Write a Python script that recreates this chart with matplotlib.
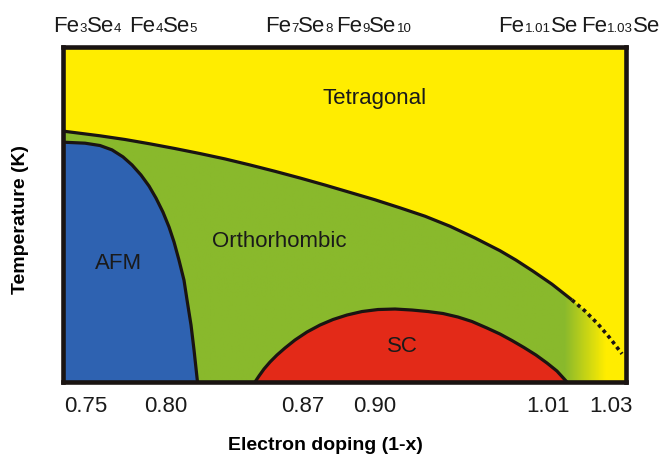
import numpy as np
import matplotlib
matplotlib.use("Agg")
import matplotlib.pyplot as plt
from matplotlib.patches import Polygon
from matplotlib.colors import to_rgb
from matplotlib.offsetbox import TextArea, HPacker, AnnotationBbox

plt.rcParams['font.family'] = ['Liberation Sans', 'DejaVu Sans']

# schematic phase diagram, arbitrary units (x: 0-100, T: 0-100)
tet_x = [0, 6.57, 11.01, 15.45, 19.89, 24.33, 28.77, 33.21, 37.66, 42.10, 46.54, 50.98,
         55.42, 59.86, 64.30, 68.74, 73.18, 77.62, 80.46, 83.48, 86.86, 90.41]
tet_t = [74.9, 73.5, 72.4, 71.1, 69.7, 68.2, 66.6, 64.8, 62.9, 60.9, 58.8, 56.6,
         54.4, 52.0, 49.5, 46.5, 43.0, 39.2, 36.4, 33.1, 29.2, 24.5]
tet_dot_x = [90.41, 92.72, 95.03, 97.16, 99.29]
tet_dot_t = [24.5, 21.2, 17.3, 13.1, 8.4]

afm_x = [0, 3.91, 6.57, 8.70, 10.66, 12.26, 13.85, 15.28, 16.52, 17.76, 18.83, 19.72,
         20.60, 21.49, 22.03, 22.74, 23.27, 23.89]
afm_t = [71.6, 71.3, 70.6, 69.3, 67.2, 64.8, 61.8, 58.5, 54.9, 50.7, 46.3, 41.8,
         36.4, 30.4, 24.5, 17.0, 9.6, 0]

sc_x = [34.10, 34.81, 35.70, 36.77, 38.01, 39.43, 41.21, 43.34, 45.65, 47.96, 50.44, 53.11,
        55.95, 58.97, 61.99, 64.83, 67.50, 70.16, 72.65, 75.31, 77.62, 79.75, 81.88,
        84.01, 85.97, 87.74, 89.52]
sc_t = [0, 1.79, 3.88, 5.97, 8.06, 10.15, 12.54, 14.93, 17.01, 18.66, 20.0, 21.04,
        21.64, 21.79, 21.49, 21.04, 20.45, 19.40, 18.06, 16.12, 14.33, 12.39, 10.30,
        8.06, 5.67, 3.28, 0]

bottom_pos = [4.1, 18.3, 42.6, 55.4, 86.2, 97.3]
bottom_labels = ['0.75', '0.80', '0.87', '0.90', '1.01', '1.03']
top_pos = [4.3, 17.8, 41.9, 55.2, 84.4, 99.1]
# (text, is_subscript) pieces of each compound label
top_labels = [
    [('Fe', 0), ('3', 1), ('Se', 0), ('4', 1)],
    [('Fe', 0), ('4', 1), ('Se', 0), ('5', 1)],
    [('Fe', 0), ('7', 1), ('Se', 0), ('8', 1)],
    [('Fe', 0), ('9', 1), ('Se', 0), ('10', 1)],
    [('Fe', 0), ('1.01', 1), ('Se', 0)],
    [('Fe', 0), ('1.03', 1), ('Se', 0)],
]

yellow = '#FFED00'
green = '#89B92C'
blue = '#2E62B1'
red = '#E32A18'
lc = '#1a1412'
tc = '#1a1a1a'

fig = plt.figure(figsize=(6.66, 4.58), dpi=100)
ax = fig.add_axes([0.0946, 0.1659, 0.8453, 0.7314])
ax.set_xlim(0, 100)
ax.set_ylim(0, 100)
ax.set_facecolor(yellow)

# orthorhombic region: green fading to yellow at the right
ortho_pts = list(zip(tet_x + tet_dot_x[1:], tet_t + tet_dot_t[1:])) + [(100, 8.4), (100, 0), (0, 0)]
ortho = Polygon(ortho_pts, closed=True, facecolor='none', edgecolor='none')
ax.add_patch(ortho)
xs = np.linspace(0, 100, 500)
frac = np.clip((xs - 89.2) / (96.5 - 89.2), 0, 1)
g, yl = np.array(to_rgb(green)), np.array(to_rgb(yellow))
row = (1 - frac)[:, None] * g + frac[:, None] * yl
img = np.tile(row[None, :, :], (2, 1, 1))
im = ax.imshow(img, extent=[0, 100, 0, 100], aspect='auto', origin='lower', zorder=1)
im.set_clip_path(ortho)

ax.fill(afm_x + [0], afm_t + [0], color=blue, lw=0, zorder=2)
ax.fill(sc_x, sc_t, color=red, lw=0, zorder=2)

kw = dict(color=lc, lw=2.3, zorder=3, solid_joinstyle='round', solid_capstyle='butt')
ax.plot(tet_x, tet_t, **kw)
ax.plot(afm_x, afm_t, **kw)
ax.plot(sc_x, sc_t, **kw)
ax.plot(tet_dot_x, tet_dot_t, color=lc, lw=2.6, ls=(0, (1, 1)), zorder=3)

ax.text(55.4, 84.5, 'Tetragonal', fontsize=16, ha='center', va='center', color=tc, zorder=4)
ax.text(38.5, 42, 'Orthorhombic', fontsize=16, ha='center', va='center', color=tc, zorder=4)
ax.text(9.8, 35.5, 'AFM', fontsize=16, ha='center', va='center', color=tc, zorder=4)
ax.text(60.3, 10.5, 'SC', fontsize=16, ha='center', va='center', color=tc, zorder=4)

for s in ax.spines.values():
    s.set_linewidth(3.3)
    s.set_color(lc)
    s.set_zorder(5)

ax.set_yticks([])
ax.set_xticks(bottom_pos, bottom_labels)
ax.tick_params(axis='x', length=0, pad=10, labelsize=16, labelcolor=tc)

# compound labels above the frame, subscripts sitting on the baseline
for xp, parts in zip(top_pos, top_labels):
    areas = [TextArea(t, textprops=dict(size=9.5 if sub else 16, color=tc)) for t, sub in parts]
    box = HPacker(children=areas, align='baseline', pad=0, sep=0)
    ab = AnnotationBbox(box, (xp, 1), xycoords=('data', 'axes fraction'),
                        xybox=(0, 7), boxcoords='offset points',
                        box_alignment=(0.5, 0), frameon=False, annotation_clip=False)
    ax.add_artist(ab)

fig.text(325 / 666, 1 - 446 / 458, 'Electron doping (1-x)', fontsize=14, fontweight='bold',
         ha='center', va='center')
fig.text(21 / 666, 1 - 220 / 458, 'Temperature (K)', fontsize=14, fontweight='bold', rotation=90,
         ha='center', va='center')

fig.savefig('out.png', dpi=100)
